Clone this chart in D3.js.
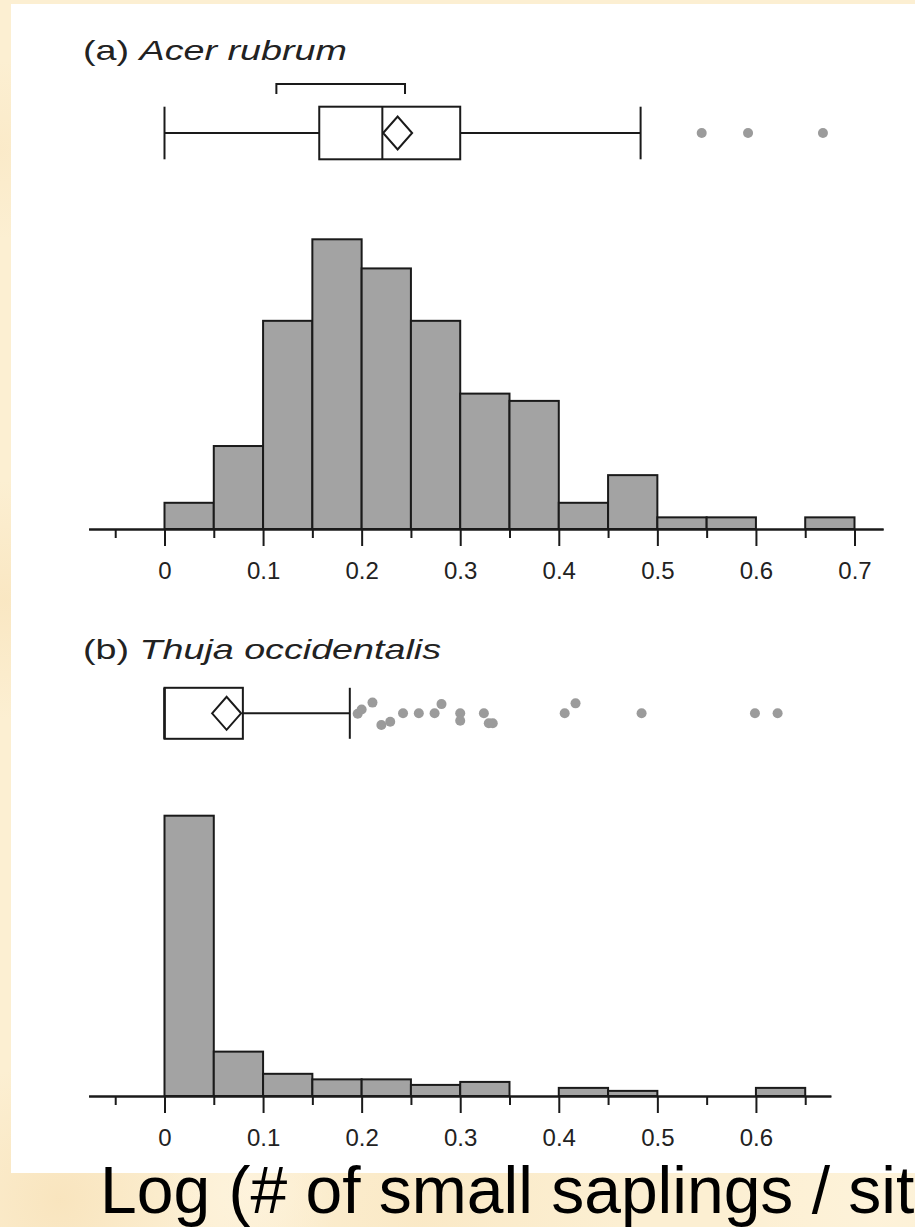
<!DOCTYPE html>
<html>
<head>
<meta charset="utf-8">
<script src="https://cdn.jsdelivr.net/npm/d3@7"></script>
<style>
  html, body { margin: 0; padding: 0; background: #fcefd2; overflow: hidden; }
  svg { display: block; }
  text { font-family: "Liberation Sans", Arial, Helvetica, sans-serif; }
</style>
</head>
<body>
<svg id="chart" width="915" height="1227"></svg>
<script>
// ---- data -------------------------------------------------------------
// Histogram bins are 0.05 wide starting at 0; values are percent of sites.
const binWidth = 0.05;
const acerBins  = [1.8, 5.7, 14.3, 19.9, 17.9, 14.3, 9.3, 8.8, 1.8, 3.7, 0.8, 0.8, 0, 0.8];
const thujaBins = [65.7, 10.4, 5.2, 3.9, 3.9, 2.6, 3.3, 0, 1.9, 1.2, 0, 0, 1.9];

// Box plot summaries: [lower whisker, Q1, median, Q3, upper whisker]
const acerStats  = [0, 0.157, 0.221, 0.300, 0.483];
const acerMean   = 0.2365;
const acerShortest = [0.1135, 0.244];
const acerOutliers = [0.545, 0.592, 0.668];

const thujaStats = [0, 0, 0, 0.0795, 0.188];
const thujaMean  = 0.063;
const thujaOutliers = [0.196, 0.200, 0.211, 0.220, 0.229, 0.242, 0.258, 0.274, 0.281,
                       0.300, 0.300, 0.324, 0.329, 0.333, 0.406, 0.417, 0.484, 0.599, 0.622];
const thujaJitter   = [0.02, -0.15, -0.42, 0.46, 0.33, 0, 0, 0, -0.36,
                       0, 0.29, 0, 0.39, 0.39, 0, -0.39, 0, 0, 0];

const acerTicks  = [0, 0.1, 0.2, 0.3, 0.4, 0.5, 0.6, 0.7];
const thujaTicks = [0, 0.1, 0.2, 0.3, 0.4, 0.5, 0.6];
const acerMinor  = [-0.05, 0.05, 0.15, 0.25, 0.35, 0.45, 0.55, 0.65];
const thujaMinor = [-0.05, 0.05, 0.15, 0.25, 0.35, 0.45, 0.55, 0.65];

const xLabel = "Log (# of small saplings / site)";

// ---- drawing ------------------------------------------------------------
const svg = d3.select("#chart");
const defs = svg.append("defs");

// slide background with a soft mottled texture
const spots = [
  {cx: 60, cy: 1200, r: 140, c: "#f6dcae", o: 0.55},
  {cx: 420, cy: 1215, r: 200, c: "#f8e2b8", o: 0.45},
  {cx: 5, cy: 600, r: 120, c: "#f7dfb3", o: 0.5},
  {cx: 880, cy: 1200, r: 160, c: "#fff5df", o: 0.6},
  {cx: 250, cy: 1190, r: 90, c: "#fff6e4", o: 0.6},
  {cx: 0, cy: 150, r: 90, c: "#f8e3bb", o: 0.4}
];
svg.append("rect").attr("width", 915).attr("height", 1227).attr("fill", "#fcefd2");
spots.forEach((s, i) => {
  const g = defs.append("radialGradient").attr("id", "spot" + i);
  g.append("stop").attr("offset", "0%").attr("stop-color", s.c).attr("stop-opacity", s.o);
  g.append("stop").attr("offset", "100%").attr("stop-color", s.c).attr("stop-opacity", 0);
  svg.append("circle").attr("cx", s.cx).attr("cy", s.cy).attr("r", s.r).attr("fill", `url(#spot${i})`);
});

// white figure panel
svg.append("rect").attr("x", 11).attr("y", 4).attr("width", 904).attr("height", 1169).attr("fill", "#ffffff");

const x = d3.scaleLinear().domain([0, 0.7]).range([164.5, 854.5]);

const ink = "#1a1a1a";
const barFill = "#a3a3a3";
const dotFill = "#9b9b9b";

function panel(opt) {
  const g = svg.append("g");

  // title, set in a wide face
  const t = g.append("text").attr("x", opt.titleX).attr("y", opt.titleY)
    .attr("font-size", opt.titleSize).attr("fill", "#222")
    .attr("textLength", opt.titleWidth).attr("lengthAdjust", "spacingAndGlyphs");
  t.append("tspan").text(opt.tag + " ");
  t.append("tspan").attr("font-style", "italic").text(opt.species);

  // histogram
  const y = d3.scaleLinear().domain([0, d3.max(opt.bins)]).range([opt.base, opt.histTop]);
  const bins = opt.bins.map((v, i) => ({x0: i * binWidth, x1: (i + 1) * binWidth, v}))
    .filter(d => d.v > 0);
  g.append("g").selectAll("rect").data(bins).join("rect")
    .attr("x", d => x(d.x0)).attr("width", d => x(d.x1) - x(d.x0))
    .attr("y", d => y(d.v)).attr("height", d => opt.base - y(d.v))
    .attr("fill", barFill).attr("stroke", ink).attr("stroke-width", 2);

  // axis on a scale extended to the axis line's ends
  const xs = x.copy().domain(opt.axisDomain).range(opt.axisDomain.map(x));
  const minorAxis = d3.axisBottom(xs).tickValues(opt.minor).tickSize(9).tickSizeOuter(0).tickFormat("");
  const majorAxis = d3.axisBottom(xs).tickValues(opt.ticks).tickSize(17).tickSizeOuter(0)
    .tickPadding(16).tickFormat(d => d === 0 ? "0" : d3.format(".1f")(d));
  const ga = g.append("g").attr("transform", `translate(0,${opt.base})`);
  ga.append("g").call(minorAxis);
  ga.append("g").call(majorAxis);
  ga.selectAll("path.domain").attr("stroke", ink).attr("stroke-width", 2);
  ga.selectAll(".tick line").attr("stroke", ink).attr("stroke-width", 2);
  ga.selectAll(".tick text").attr("font-size", opt.tickSize).attr("fill", "#222")
    .attr("font-family", "'Liberation Sans', Arial, sans-serif");

  // box plot
  const [lo, q1, med, q3, hi] = opt.stats;
  const cy = opt.boxY, hh = opt.boxHalf;
  const bp = g.append("g").attr("stroke", ink).attr("stroke-width", 2).attr("fill", "none");
  bp.append("line").attr("x1", x(lo)).attr("x2", x(q1)).attr("y1", cy).attr("y2", cy);
  bp.append("line").attr("x1", x(q3)).attr("x2", x(hi)).attr("y1", cy).attr("y2", cy);
  bp.append("line").attr("x1", x(lo)).attr("x2", x(lo)).attr("y1", cy - hh).attr("y2", cy + hh);
  bp.append("line").attr("x1", x(hi)).attr("x2", x(hi)).attr("y1", cy - hh).attr("y2", cy + hh);
  bp.append("rect").attr("x", x(q1)).attr("width", x(q3) - x(q1))
    .attr("y", cy - hh).attr("height", 2 * hh);
  bp.append("line").attr("x1", x(med)).attr("x2", x(med)).attr("y1", cy - hh).attr("y2", cy + hh);
  const mx = x(opt.mean), dw = 14.5, dh = 16.5;
  bp.append("path").attr("d", `M${mx - dw},${cy}L${mx},${cy - dh}L${mx + dw},${cy}L${mx},${cy + dh}Z`);

  if (opt.shortest) {
    const by = cy - 49, tick = 10;
    bp.append("path").attr("d",
      `M${x(opt.shortest[0])},${by + tick}V${by}H${x(opt.shortest[1])}V${by + tick}`);
  }

  const jit = opt.jitter || opt.outliers.map(() => 0);
  g.append("g").selectAll("circle").data(opt.outliers).join("circle")
    .attr("cx", d => x(d)).attr("cy", (d, i) => cy + jit[i] * hh)
    .attr("r", 5).attr("fill", dotFill);
}

panel({
  tag: "(a)", species: "Acer rubrum", titleX: 83, titleY: 60, titleSize: 28, titleWidth: 264,
  bins: acerBins, base: 529, histTop: 239.3,
  axisDomain: [-0.077, 0.729], ticks: acerTicks, minor: acerMinor, tickSize: 24,
  stats: acerStats, mean: acerMean, shortest: acerShortest, outliers: acerOutliers,
  boxY: 133, boxHalf: 26.3
});

panel({
  tag: "(b)", species: "Thuja occidentalis", titleX: 83, titleY: 659, titleSize: 28, titleWidth: 358,
  bins: thujaBins, base: 1096, histTop: 815.7,
  axisDomain: [-0.077, 0.676], ticks: thujaTicks, minor: thujaMinor, tickSize: 24,
  stats: thujaStats, mean: thujaMean, outliers: thujaOutliers, jitter: thujaJitter,
  boxY: 713.3, boxHalf: 25.5
});

// slide caption for the shared x variable (runs off the slide's right edge)
svg.append("text").attr("x", 100).attr("y", 1213)
  .attr("font-size", 66).attr("fill", "#000").text(xLabel);
</script>
</body>
</html>
